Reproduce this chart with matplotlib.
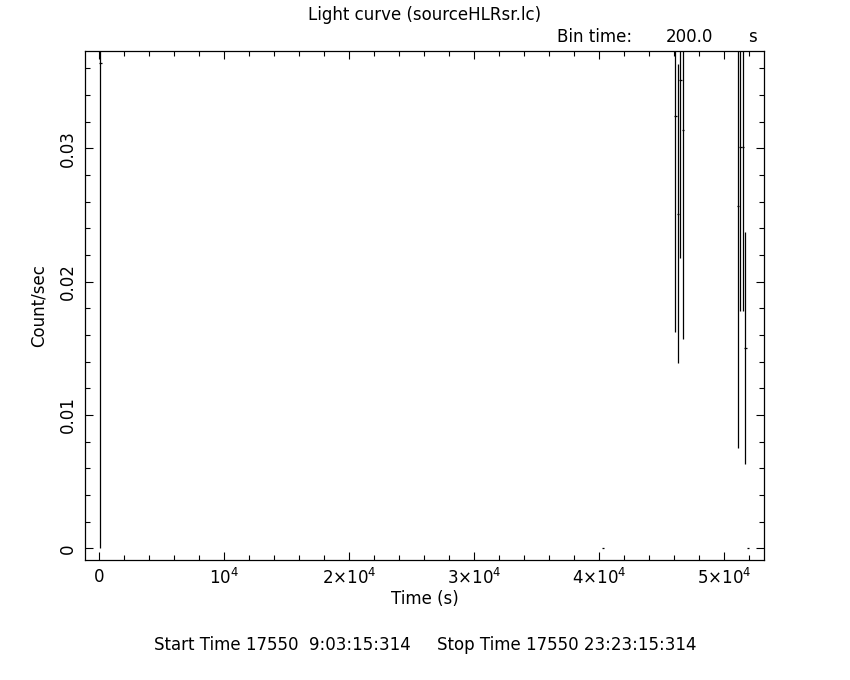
import matplotlib
matplotlib.use("Agg")
import matplotlib.pyplot as plt
from matplotlib.ticker import MultipleLocator, FixedLocator, FixedFormatter

# light curve bins (time in s, rate in count/s, 1-sigma error)
time = [100, 40300, 46100, 46300, 46500, 46700, 51100, 51300, 51500, 51700, 51900]
rate = [0.0364, 0.0, 0.0324, 0.0251, 0.0351, 0.0314, 0.0257, 0.0301, 0.0301, 0.0150, 0.0]
rate_err = [0.0364, 0.0, 0.0162, 0.0112, 0.0133, 0.0157, 0.0182, 0.0123, 0.0123, 0.0087, 0.0]
half_bin = 100

x_ticks = [0, 10000, 20000, 30000, 40000, 50000]
x_labels = ["0", r"$10^4$", r"2×$10^4$", r"3×$10^4$", r"4×$10^4$", r"5×$10^4$"]
y_ticks = [0, 0.01, 0.02, 0.03]
y_labels = ["0", "0.01", "0.02", "0.03"]

plt.rcParams["mathtext.fontset"] = "dejavusans"
fs = 12

fig = plt.figure(figsize=(8.5, 6.8), dpi=100)
ax = fig.add_axes([85 / 850, 120 / 680, 679 / 850, 509 / 680])

ax.errorbar(time, rate, xerr=half_bin, yerr=rate_err, fmt="none",
            ecolor="black", elinewidth=0.9, capsize=0)

ax.set_xlim(-1120, 53200)
ax.set_ylim(-0.00088, 0.0373)

ax.xaxis.set_major_locator(FixedLocator(x_ticks))
ax.xaxis.set_major_formatter(FixedFormatter(x_labels))
ax.xaxis.set_minor_locator(MultipleLocator(2000))
ax.yaxis.set_major_locator(FixedLocator(y_ticks))
ax.yaxis.set_major_formatter(FixedFormatter(y_labels))
ax.yaxis.set_minor_locator(MultipleLocator(0.002))

ax.tick_params(which="both", direction="in", top=True, right=True,
               width=0.8, labelsize=fs, color="black")
ax.tick_params(which="major", length=6)
ax.tick_params(which="minor", length=3.5)
ax.tick_params(axis="x", pad=6)
ax.tick_params(axis="y", pad=6, labelrotation=90)
for lab in ax.get_yticklabels():
    lab.set_va("center")

for sp in ax.spines.values():
    sp.set_linewidth(0.9)

ax.set_xlabel("Time (s)", fontsize=fs, labelpad=1)
ax.set_ylabel("Count/sec", fontsize=fs, labelpad=8)

fig.text(425 / 850, 1 - 15 / 680, "Light curve (sourceHLRsr.lc)", fontsize=fs,
         ha="center", va="center")
fig.text(557 / 850, 1 - 37 / 680, "Bin time:", fontsize=fs, ha="left", va="center")
fig.text(713 / 850, 1 - 37 / 680, "200.0", fontsize=fs, ha="right", va="center")
fig.text(757 / 850, 1 - 37 / 680, "s", fontsize=fs, ha="right", va="center")
fig.text(425 / 850, 1 - 645 / 680,
         "Start Time 17550  9:03:15:314     Stop Time 17550 23:23:15:314",
         fontsize=fs, ha="center", va="center")

fig.savefig("out.png", dpi=100, facecolor="white")
